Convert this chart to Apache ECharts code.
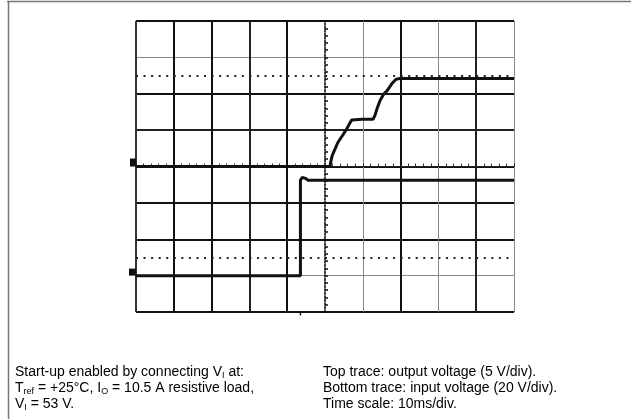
<!DOCTYPE html>
<html>
<head>
<meta charset="utf-8">
<script src="https://cdn.jsdelivr.net/npm/echarts@6/dist/echarts.min.js"></script>
<style>
  html, body { margin: 0; padding: 0; background: #fff; }
  #chart { width: 631px; height: 419px; }
</style>
</head>
<body>
<div id="chart"></div>
<script>
// Time in ms relative to the centre graticule line (10 ms/div)
const timeRange = [-50, 50];

// Channel 1: output voltage, 5 V/div  [ms, V]
const outputTime  = [-50, 1.3, 1.6, 1.9, 3.4, 4.8, 5.8, 6.6, 7.1, 9.8, 12.7, 13.2, 13.8, 14.6, 15.6, 16.4, 17.7, 18.8, 19.8, 50];
const outputVolts = [0, 0, 0.8, 1.5, 3.3, 4.4, 5.2, 6.0, 6.4, 6.5, 6.5, 7.0, 8.0, 9.1, 10.0, 10.4, 11.4, 12.0, 12.1, 12.1];

// Channel 2: input voltage, 20 V/div  [ms, V]
const inputTime  = [-50, -6.5, -6.5, -6.0, -5.2, -4.5, 50];
const inputVolts = [0, 0, 52.5, 54, 53.5, 52.5, 52.5];

// Dotted cursor levels on the channel 1 scale (V)
const cursorLevels = [12.5, -12.5];

// Caption lines
const captionLeft = [
  '{n|Start-up enabled by connecting V}{s|I}{n| at:}',
  '{n|T}{s|ref}{n| = +25°C, I}{s|O}{n| = 10.5 A resistive load,}',
  '{n|V}{s|I}{n| = 53 V.}'
];
const captionRight = [
  '{n|Top trace: output voltage (5 V/div).}',
  '{n|Bottom trace: input voltage (20 V/div).}',
  '{n|Time scale: 10ms/div.}'
];

const zip = (xs, ys) => xs.map((x, i) => [x, ys[i]]);
const T = 'rgba(0,0,0,0)';
const FONT = '"Liberation Sans", Arial, Helvetica, sans-serif';

// Heavy and light graticule lines are split onto two axes each
const xHeavy = ['#333', '#111', '#111', '#222', '#111', T, T, '#111', T, '#222', T];
const xLight = [T, T, T, T, T, T, '#888', T, '#888', T, '#888'];
const yHeavy = ['#111', T, '#111', '#111', '#111', '#222', '#111', T, '#111'];
const yLight = [T, '#888', T, T, T, T, T, '#888', T];

const hidden = { axisLabel: { show: false }, axisTick: { show: false }, axisLine: { show: false } };

const chart = echarts.init(document.getElementById('chart'), null, { renderer: 'canvas' });

const textLines = [];
const rich = {
  n: { fontFamily: FONT, fontSize: 14, color: '#222', lineHeight: 16 },
  s: { fontFamily: FONT, fontSize: 9, color: '#222', lineHeight: 9, verticalAlign: 'bottom' }
};
[captionLeft, captionRight].forEach((col, c) => {
  col.forEach((t, i) => {
    textLines.push({
      type: 'text',
      x: c === 0 ? 15 : 323,
      y: 372 + i * 16,
      style: { text: t, rich: rich, verticalAlign: 'middle', align: 'left' }
    });
  });
});

const centreTicks = { show: true, length: 3, lineStyle: { color: '#111', width: 1.5 } };

chart.setOption({
  animation: false,
  backgroundColor: '#fff',
  grid: { left: 136, top: 21, width: 378, height: 291, show: false },
  xAxis: [
    {
      type: 'value', min: timeRange[0], max: timeRange[1], interval: 10,
      axisLabel: { show: false },
      axisLine: { show: true, onZero: true, onZeroAxisIndex: 0, lineStyle: { color: '#222', width: 1 } },
      axisTick: { show: true, inside: true, length: 3, lineStyle: { color: '#222' } },
      minorTick: { show: true, splitNumber: 5, length: 3, lineStyle: { color: '#333' } },
      splitLine: { show: true, lineStyle: { color: xHeavy, width: 2 } }
    },
    Object.assign({
      type: 'value', min: timeRange[0], max: timeRange[1], interval: 10,
      splitLine: { show: true, lineStyle: { color: xLight, width: 1 } }
    }, hidden)
  ],
  yAxis: [
    {
      type: 'value', min: -20, max: 20, interval: 5,
      axisLabel: { show: false },
      axisLine: { show: true, onZero: true, onZeroAxisIndex: 0, lineStyle: { color: '#000', width: 1.5, type: [2, 1.5] } },
      axisTick: Object.assign({ inside: true }, centreTicks),
      minorTick: Object.assign({ splitNumber: 5 }, centreTicks),
      splitLine: { show: true, lineStyle: { color: yHeavy, width: 2 } }
    },
    Object.assign({
      type: 'value', min: -20, max: 140, interval: 20,
      splitLine: { show: false }
    }, hidden),
    {
      type: 'value', min: -20, max: 20, interval: 5,
      axisLabel: { show: false },
      axisLine: { show: false, onZero: true, onZeroAxisIndex: 0 },
      axisTick: Object.assign({ inside: false }, centreTicks),
      minorTick: Object.assign({ splitNumber: 5 }, centreTicks),
      splitLine: { show: true, lineStyle: { color: yLight, width: 1 } }
    }
  ],
  series: [
    {
      name: 'Output voltage',
      type: 'line',
      xAxisIndex: 0, yAxisIndex: 0,
      data: zip(outputTime, outputVolts),
      symbol: 'none',
      lineStyle: { color: '#111', width: 3 },
      z: 5,
      markLine: {
        silent: true,
        symbol: 'none',
        label: { show: false },
        lineStyle: { color: '#222', width: 2, type: [2, 5.56] },
        data: cursorLevels.map(v => ({ yAxis: v }))
      },
      markPoint: {
        silent: true,
        symbol: 'rect',
        symbolSize: [6, 8],
        symbolOffset: [-3, -4],
        label: { show: false },
        itemStyle: { color: '#111' },
        data: [{ coord: [outputTime[0], outputVolts[0]] }]
      }
    },
    {
      name: 'Input voltage',
      type: 'line',
      xAxisIndex: 0, yAxisIndex: 1,
      data: zip(inputTime, inputVolts),
      symbol: 'none',
      lineStyle: { color: '#111', width: 3 },
      z: 5,
      markPoint: {
        silent: true,
        label: { show: false },
        itemStyle: { color: '#111' },
        data: [
          { coord: [inputTime[0], inputVolts[0]], symbol: 'rect', symbolSize: [7, 7], symbolOffset: [-3.5, -3.5] },
          { coord: [inputTime[1], -20], symbol: 'rect', symbolSize: [1.5, 3], symbolOffset: [0, 2] }
        ]
      }
    }
  ],
  graphic: [
    { type: 'line', shape: { x1: 7, y1: 1.5, x2: 631, y2: 1.5 }, style: { stroke: '#777', lineWidth: 1.5 }, silent: true },
    { type: 'line', shape: { x1: 8.5, y1: 1, x2: 8.5, y2: 419 }, style: { stroke: '#777', lineWidth: 1.5 }, silent: true }
  ].concat(textLines)
});
</script>
</body>
</html>
